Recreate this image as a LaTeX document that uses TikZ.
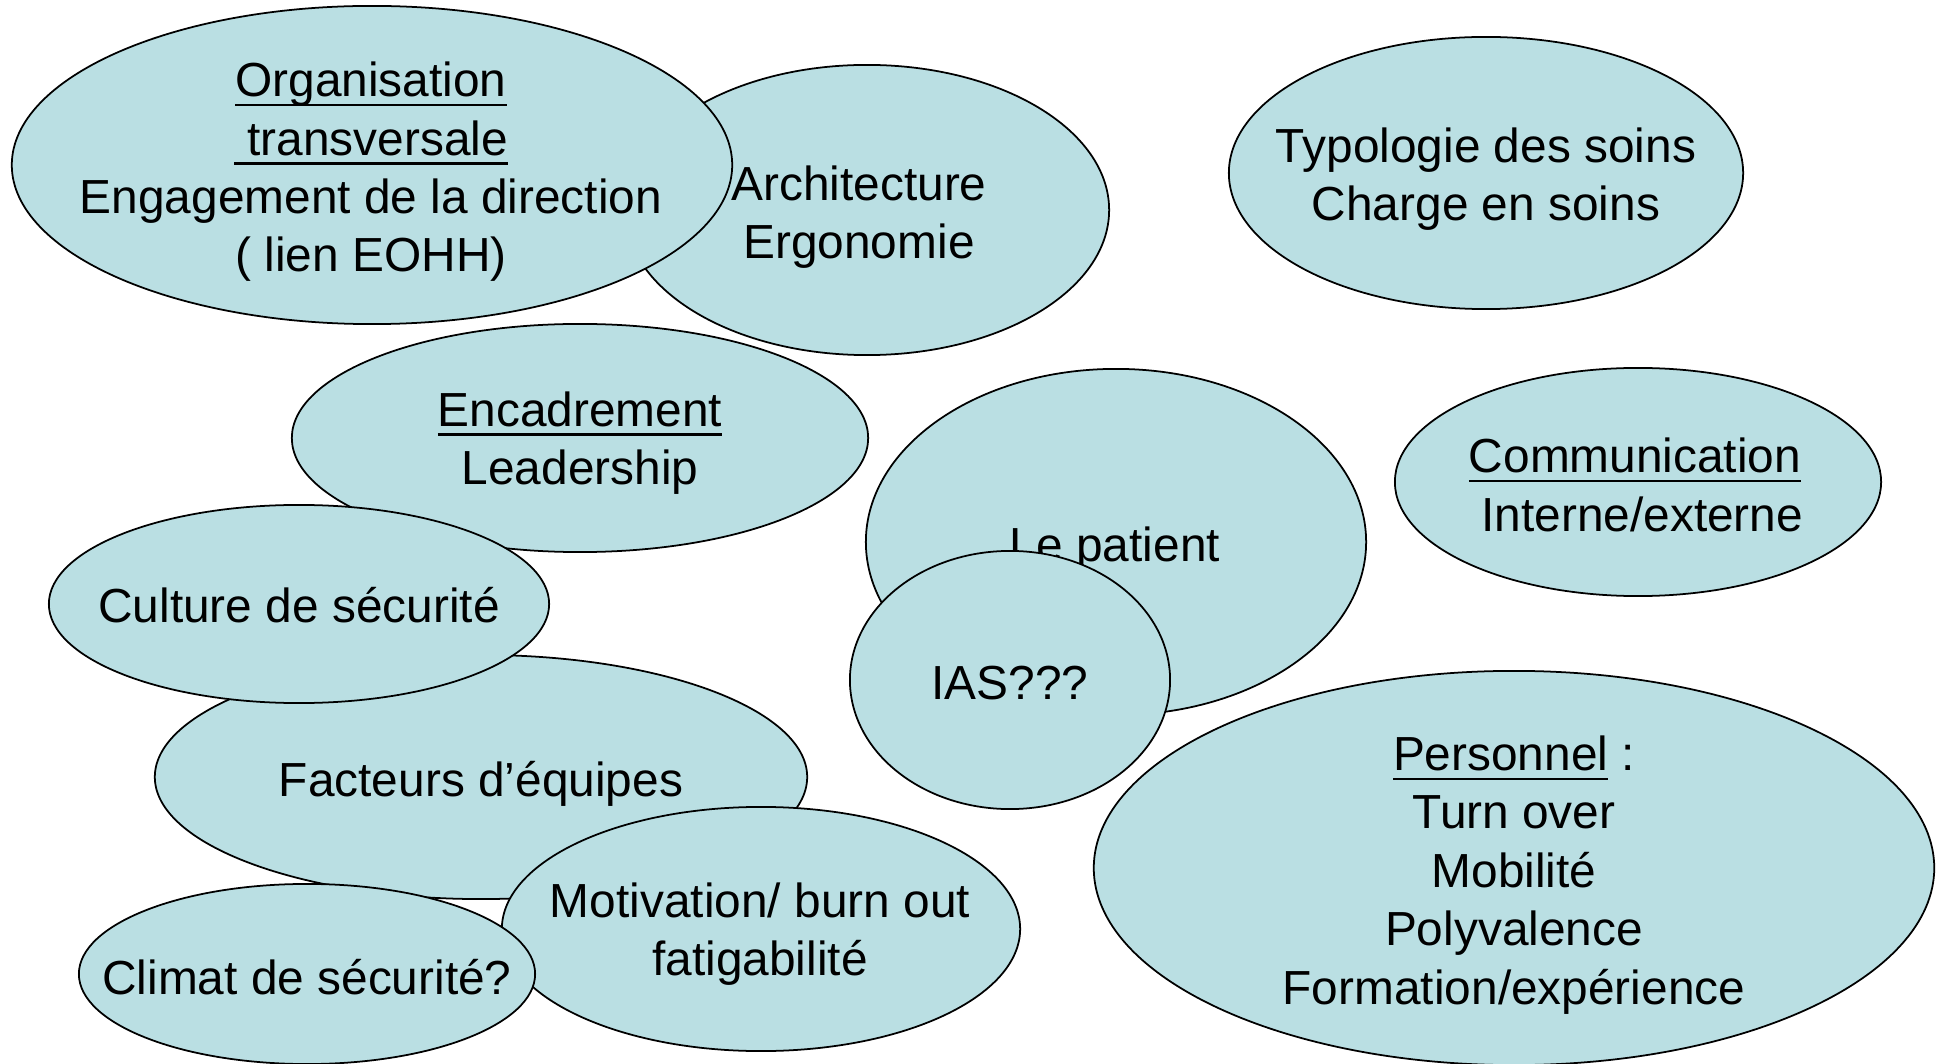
\documentclass[tikz,border=0pt]{standalone}
\usepackage{fontspec}
\setmainfont{Liberation Sans}
\usetikzlibrary{shapes.geometric}
\definecolor{bub}{RGB}{186,223,227}
\newcommand\bubfont{\fontsize{13.6pt}{16.6pt}\selectfont}
\newcommand\ulx[1]{\setbox0\hbox{#1}\leavevmode\rlap{\rule[-0.2em]{\wd0}{0.055em}}\box0\relax}
\tikzset{
  bubble/.style={ellipse, draw=black, line width=0.5pt, fill=bub, inner sep=0pt},
  lbl/.style={align=center, font=\bubfont, inner sep=0pt, text=black, yshift=-0.05cm}
}
\begin{document}
\begin{tikzpicture}[x=0.01cm, y=-0.01cm]
\useasboundingbox (0,0) rectangle (1939,1064);
% Architecture
\node[bubble, minimum width=4.84cm, minimum height=2.90cm] (arch) at (867,210) {};
\node[lbl] (archt) at (859,212) {Architecture\\Ergonomie};
% Organisation
\node[bubble, minimum width=7.20cm, minimum height=3.18cm] (org) at (372,165) {};
\node[lbl] (orgt) at (371,167) {\ulx{Organisation}\\\ulx{\ transversale}\\Engagement de la direction\\( lien EOHH)};
% Typologie
\node[bubble, minimum width=5.14cm, minimum height=2.72cm] (typo) at (1486,173) {};
\node[lbl] (typot) at (1486,174) {Typologie des soins\\Charge en soins};
% Encadrement
\node[bubble, minimum width=5.76cm, minimum height=2.28cm] (enc) at (580,438) {};
\node[lbl] (enct) at (580,438) {\ulx{Encadrement}\\Leadership};
% Facteurs
\node[bubble, minimum width=6.52cm, minimum height=2.44cm] (fact) at (481,777) {};
\node[lbl] (factt) at (481,779) {Facteurs d’équipes};
% Culture
\node[bubble, minimum width=5.00cm, minimum height=1.98cm] (cult) at (299,604) {};
\node[lbl] (cultt) at (299,600) {Culture de sécurité};
% Le patient
\node[bubble, minimum width=5.00cm, minimum height=3.46cm] (pat) at (1116,542) {};
\node[lbl] (patt) at (1115,544) {Le patient};
% IAS
\node[bubble, minimum width=3.20cm, minimum height=2.58cm] (ias) at (1010,680) {};
\node[lbl] (iast) at (1010,678) {IAS???};
% Communication
\node[bubble, minimum width=4.86cm, minimum height=2.28cm] (comm) at (1638,482) {};
\node[lbl] (commt) at (1635,480) {\ulx{Communication}\\\hspace*{0.3em}Interne/externe};
% Personnel
\node[bubble, minimum width=8.40cm, minimum height=3.94cm] (pers) at (1514,868) {};
\node[lbl] (perst) at (1514,870) {\ulx{Personnel} :\\Turn over\\Mobilité\\Polyvalence\\Formation/expérience};
% Motivation
\node[bubble, minimum width=5.18cm, minimum height=2.44cm] (motiv) at (761,929) {};
\node[lbl] (motivt) at (760,929) {Motivation/ burn out\\fatigabilité};
% Climat
\node[bubble, minimum width=4.56cm, minimum height=1.80cm] (clim) at (307,974) {};
\node[lbl] (climt) at (307,972) {Climat de sécurité?};
\end{tikzpicture}
\end{document}
